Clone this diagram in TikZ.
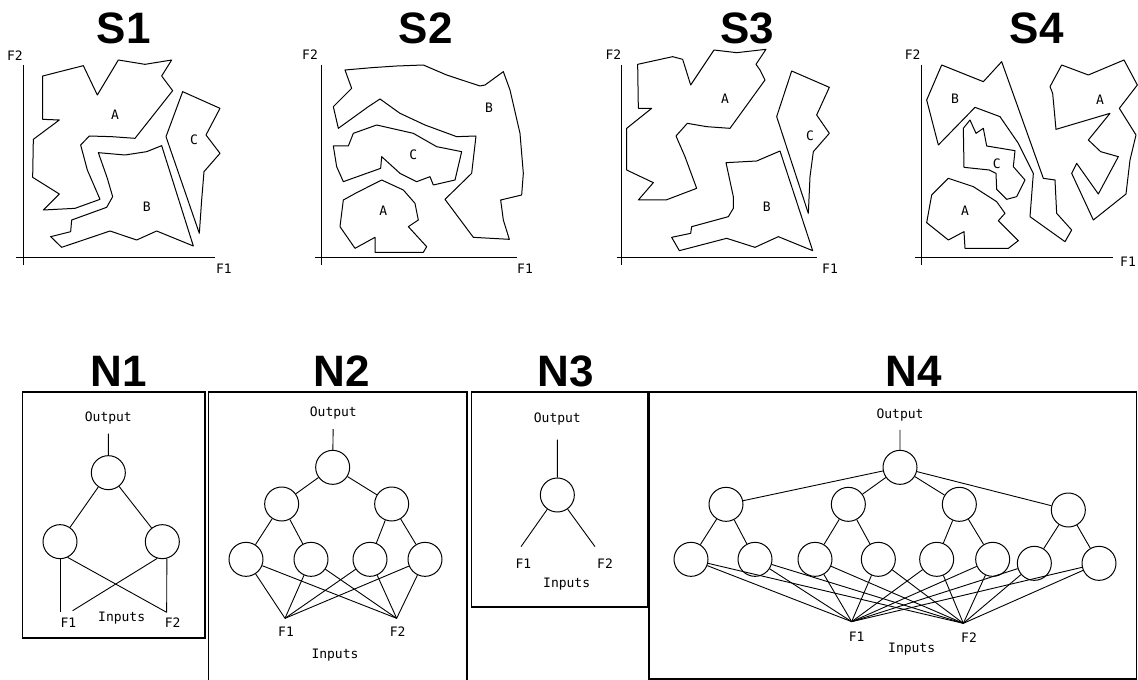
\documentclass[tikz,border=0pt]{standalone}
\usepackage{fontspec}
\setmainfont{Liberation Sans}
\newfontfamily\labfont{DejaVu Sans Mono}
\begin{document}
\begin{tikzpicture}[x=1pt,y=-1pt,
  title/.style={font=\fontsize{44}{44}\selectfont\bfseries, anchor=base, inner sep=0pt},
  lab/.style={font=\labfont\fontsize{13}{13}\selectfont, inner sep=1pt},
  region/.style={draw, line width=1pt, line join=round},
  axis/.style={line width=1.6pt},
  panel/.style={line width=1.5pt},
  neuron/.style={circle, draw, line width=1pt, minimum size=34pt, inner sep=0pt},
  link/.style={line width=0.9pt}]
\useasboundingbox[fill=white] (0,0) rectangle (1138,680);

% ---------- feature-space panels ----------
\node[title] (s1t) at (123.7,43.3) {S1};
\node[title] (s2t) at (425.8,43.3) {S2};
\node[title] (s3t) at (747.5,43.3) {S3};
\node[title] (s4t) at (1036.7,43.3) {S4};

% S1
\begin{scope}[shift={(0,0)},scale=1/3]
  \draw[axis] (70,195) -- (70,795);
  \draw[axis] (48,773) -- (645,773);
  \node[lab] (s1y) at (45,168) {F2};
  \node[lab] (s1x) at (672,805) {F1};
  \draw[region] (128,228) -- (250,197) -- (292,285) -- (355,180) -- (435,193) -- (515,180) -- (485,228) -- (518,272) -- (405,415) -- (335,410) -- (268,408) -- (242,435) -- (262,510) -- (300,598) -- (225,625) -- (130,630) -- (178,582) -- (98,532) -- (100,418) -- (178,360) -- (128,358) -- cycle;
  \draw[region] (295,458) -- (375,465) -- (440,455) -- (485,437) -- (580,738) -- (470,693) -- (410,720) -- (330,693) -- (185,742) -- (152,710) -- (212,695) -- (215,660) -- (320,622) -- (338,590) -- (322,535) -- cycle;
  \draw[region] (548,275) -- (660,325) -- (618,405) -- (660,460) -- (612,515) -- (605,600) -- (598,700) -- (498,410) -- cycle;
  \node[lab] (s1a) at (345,345) {A};
  \node[lab] (s1b) at (440,620) {B};
  \node[lab] (s1c) at (582,420) {C};
\end{scope}

% S2
\begin{scope}[shift={(290,0)},scale=1/3]
  \draw[axis] (95,195) -- (95,795);
  \draw[axis] (75,773) -- (680,773);
  \node[lab] (s2y) at (60,165) {F2};
  \node[lab] (s2x) at (705,805) {F1};
  \draw[region] (165,210) -- (245,203) -- (320,198) -- (400,195) -- (470,225) -- (570,258) -- (585,255) -- (640,215) -- (660,270) -- (690,400) -- (700,520) -- (695,585) -- (632,600) -- (640,660) -- (658,718) -- (550,712) -- (465,598) -- (545,520) -- (558,408) -- (500,410) -- (405,375) -- (330,340) -- (270,297) -- (235,320) -- (145,385) -- (130,320) -- (185,265) -- cycle;
  \draw[region] (130,438) -- (175,438) -- (190,400) -- (260,375) -- (370,400) -- (440,440) -- (515,455) -- (495,540) -- (430,555) -- (420,530) -- (380,545) -- (330,520) -- (275,470) -- (272,505) -- (160,545) -- (140,500) -- cycle;
  \draw[region] (160,600) -- (200,578) -- (275,540) -- (340,570) -- (375,610) -- (385,660) -- (355,680) -- (410,740) -- (400,757) -- (255,757) -- (255,712) -- (195,745) -- (150,680) -- cycle;
  \node[lab] (s2a) at (280,633) {A};
  \node[lab] (s2b) at (597,323) {B};
  \node[lab] (s2c) at (370,465) {C};
\end{scope}

% S3
\begin{scope}[shift={(590,0)},scale=1/3]
  \draw[axis] (95,195) -- (95,795);
  \draw[axis] (80,773) -- (680,773);
  \node[lab] (s3y) at (70,165) {F2};
  \node[lab] (s3x) at (720,805) {F1};
  \draw[region] (143,193) -- (248,170) -- (278,178) -- (302,255) -- (372,150) -- (440,158) -- (528,148) -- (498,193) -- (510,210) -- (525,240) -- (420,385) -- (350,380) -- (292,370) -- (258,408) -- (285,470) -- (320,565) -- (228,600) -- (145,600) -- (190,548) -- (110,510) -- (110,385) -- (185,325) -- (145,325) -- cycle;
  \draw[region] (408,488) -- (500,483) -- (570,453) -- (668,752) -- (565,710) -- (495,742) -- (410,715) -- (268,752) -- (245,712) -- (302,700) -- (305,680) -- (415,650) -- (430,625) -- (430,590) -- cycle;
  \draw[region] (605,213) -- (718,262) -- (680,345) -- (718,400) -- (670,455) -- (660,530) -- (655,640) -- (560,350) -- cycle;
  \node[lab] (s3a) at (405,295) {A};
  \node[lab] (s3b) at (530,620) {B};
  \node[lab] (s3c) at (660,408) {C};
\end{scope}

% S4
\begin{scope}[shift={(890,0)},scale=1/3]
  \draw[axis] (95,195) -- (95,795);
  \draw[axis] (75,773) -- (669,773);
  \node[lab] (s4y) at (68,165) {F2};
  \node[lab] (s4x) at (714,786) {F1};
  \draw[region] (155,195) -- (280,245) -- (335,185) -- (460,535) -- (495,540) -- (500,640) -- (545,690) -- (525,725) -- (420,650) -- (430,520) -- (385,430) -- (330,350) -- (255,322) -- (145,435) -- (110,300) -- cycle;
  \draw[region] (220,385) -- (240,360) -- (258,400) -- (280,385) -- (290,438) -- (375,452) -- (370,500) -- (405,540) -- (380,590) -- (350,598) -- (320,568) -- (318,520) -- (298,510) -- (222,502) -- cycle;
  \draw[region] (125,585) -- (175,535) -- (250,560) -- (320,605) -- (345,640) -- (325,662) -- (385,722) -- (355,745) -- (225,745) -- (222,695) -- (175,720) -- (110,668) -- cycle;
  \draw[region] (515,195) -- (595,225) -- (702,180) -- (742,255) -- (688,325) -- (738,405) -- (720,480) -- (708,582) -- (610,660) -- (545,520) -- (560,490) -- (625,582) -- (685,470) -- (632,455) -- (595,420) -- (660,340) -- (498,388) -- (488,280) -- (480,260) -- cycle;
  \node[lab] (s4b) at (195,295) {B};
  \node[lab] (s4c) at (320,490) {C};
  \node[lab] (s4a1) at (225,632) {A};
  \node[lab] (s4a2) at (630,298) {A};
\end{scope}

% ---------- network panels ----------
\node[title] (n1t) at (119,386.7) {N1};
\node[title] (n2t) at (341.5,386.7) {N2};
\node[title] (n3t) at (566,386.7) {N3};
\node[title] (n4t) at (914,386.7) {N4};

\draw[panel] (22.5,392) rectangle (205,638);
\draw[panel] (208.5,681) -- (208.5,392) -- (467,392) -- (467,681);
\draw[panel] (471.5,392) rectangle (648,607);
\draw[panel] (649,392) rectangle (1136.5,679);

% N1
\begin{scope}[shift={(0,360)},scale=1/3]
  \node[lab] (n1o) at (325,175) {Output};
  \node[neuron] (n1a) at (325,338) {};
  \node[neuron] (n1b) at (180,545) {};
  \node[neuron] (n1c) at (487,545) {};
  \coordinate (n1f1a) at (180,757);
  \coordinate (n1f1b) at (218,752);
  \coordinate (n1f2) at (500,757);
  \node[lab] (n1l1) at (205,787) {F1};
  \node[lab] (n1l2) at (518,787) {F2};
  \node[lab] (n1in) at (365,775) {Inputs};
  \draw[link, shorten <=8pt] (n1o) -- (n1a);
  \draw[link] (n1a) -- (n1b);
  \draw[link] (n1a) -- (n1c);
  \draw[link] (n1b.south) -- (n1f1a);
  \draw[link] (n1b.-64) -- (n1f2);
  \draw[link] (n1c.-107) -- (n1f1b);
  \draw[link] (n1c.-75) -- (n1f2);
\end{scope}

% N2
\begin{scope}[shift={(205,360)},scale=1/3]
  \node[lab] (n2o) at (385,160) {Output};
  \node[neuron] (n2a) at (383,322) {};
  \node[neuron] (n2b) at (230,432) {};
  \node[neuron] (n2c) at (560,432) {};
  \node[neuron] (n2d) at (123,598) {};
  \node[neuron] (n2e) at (318,598) {};
  \node[neuron] (n2f) at (495,598) {};
  \node[neuron] (n2g) at (660,598) {};
  \coordinate (n2p1) at (240,775);
  \coordinate (n2p2) at (575,775);
  \node[lab] (n2l1) at (243,815) {F1};
  \node[lab] (n2l2) at (578,815) {F2};
  \node[lab] (n2in) at (390,885) {Inputs};
  \draw[link, shorten <=8.5pt] (n2o) -- (n2a);
  \draw[link] (n2a) -- (n2b);
  \draw[link] (n2a) -- (n2c);
  \draw[link] (n2b) -- (n2d);
  \draw[link] (n2b) -- (n2e);
  \draw[link] (n2c) -- (n2f);
  \draw[link] (n2c) -- (n2g);
  \foreach \n in {n2d,n2e,n2f,n2g} {
    \draw[link] (\n) -- (n2p1);
    \draw[link] (\n) -- (n2p2);
  }
\end{scope}

% N3
\begin{scope}[shift={(465,360)},scale=1/3]
  \node[lab] (n3o) at (277,178) {Output};
  \node[neuron] (n3a) at (277,405) {};
  \coordinate (n3p1) at (168,560);
  \coordinate (n3p2) at (390,560);
  \node[lab] (n3l1) at (175,610) {F1};
  \node[lab] (n3l2) at (420,610) {F2};
  \node[lab] (n3in) at (305,672) {Inputs};
  \draw[link, shorten <=13pt] (n3o) -- (n3a);
  \draw[link] (n3a) -- (n3p1);
  \draw[link] (n3a) -- (n3p2);
\end{scope}

% N4
\begin{scope}[shift={(645,360)},scale=1/3]
  \node[lab] (n4o) at (765,165) {Output};
  \node[neuron] (n4a) at (765,322) {};
  \node[neuron] (n4b) at (243,433) {};
  \node[neuron] (n4c) at (610,433) {};
  \node[neuron] (n4d) at (943,433) {};
  \node[neuron] (n4e) at (1270,450) {};
  \node[neuron] (n4f) at (138,598) {};
  \node[neuron] (n4g) at (330,598) {};
  \node[neuron] (n4h) at (510,598) {};
  \node[neuron] (n4i) at (700,598) {};
  \node[neuron] (n4j) at (875,598) {};
  \node[neuron] (n4k) at (1043,598) {};
  \node[neuron] (n4l) at (1168,610) {};
  \node[neuron] (n4m) at (1362,610) {};
  \coordinate (n4p1) at (620,785);
  \coordinate (n4p2) at (955,790);
  \node[lab] (n4l1) at (635,830) {F1};
  \node[lab] (n4l2) at (972,832) {F2};
  \node[lab] (n4in) at (800,868) {Inputs};
  \draw[link, shorten <=7.5pt] (n4o) -- (n4a);
  \foreach \n in {n4b,n4c,n4d,n4e} {\draw[link] (n4a) -- (\n);}
  \draw[link] (n4b) -- (n4f);
  \draw[link] (n4b) -- (n4g);
  \draw[link] (n4c) -- (n4h);
  \draw[link] (n4c) -- (n4i);
  \draw[link] (n4d) -- (n4j);
  \draw[link] (n4d) -- (n4k);
  \draw[link] (n4e) -- (n4l);
  \draw[link] (n4e) -- (n4m);
  \foreach \n in {n4f,n4g,n4h,n4i,n4j,n4k,n4l,n4m} {
    \draw[link] (\n) -- (n4p1);
    \draw[link] (\n) -- (n4p2);
  }
\end{scope}
\end{tikzpicture}
\end{document}
